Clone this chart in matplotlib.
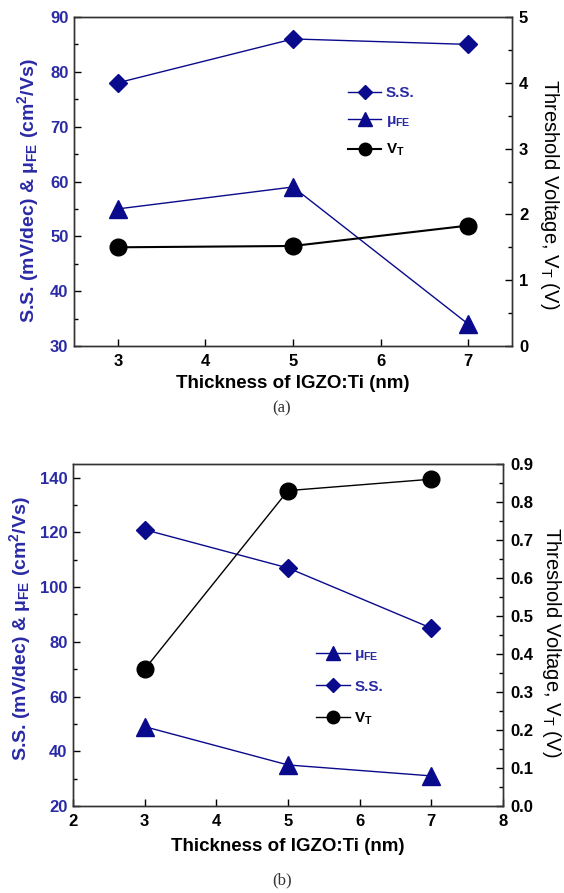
import matplotlib
matplotlib.use("Agg")
import matplotlib.pyplot as plt
from matplotlib.ticker import MultipleLocator, FormatStrFormatter

plt.rcParams['font.family'] = ['Liberation Sans', 'DejaVu Sans']
plt.rcParams['mathtext.fontset'] = 'custom'
plt.rcParams['mathtext.rm'] = 'Liberation Sans'
plt.rcParams['mathtext.bf'] = 'Liberation Sans:bold'
plt.rcParams['mathtext.it'] = 'Liberation Sans:italic'
plt.rcParams['mathtext.default'] = 'bf'

# ---------------- data ----------------
thickness = [3, 5, 7]

# panel (a)
ss_a = [78, 86, 85]
mu_a = [55, 59, 34]
vt_a = [1.50, 1.52, 1.83]

# panel (b)
ss_b = [121, 107, 85]
mu_b = [49, 35, 31]
vt_b = [0.36, 0.83, 0.86]

BLUE = '#0a0a8c'
TBLUE = '#2a2aa6'
W, H = 564, 893

TICK_FS = 12
XLABEL_FS = 13.5
LLABEL_FS = 14
RLABEL_FS = 14.5

fig = plt.figure(figsize=(W / 100, H / 100), dpi=100)


def px_axes(left, right, top, bottom):
    return fig.add_axes([left / W, (H - bottom) / H, (right - left) / W, (bottom - top) / H])


def style(ax, ax2, left, right, top, bottom, lx, ly, rx, ry, xpad):
    for a in (ax, ax2):
        for s in a.spines.values():
            s.set_linewidth(1.0)
            s.set_color('#333333')
    ax.tick_params(axis='both', which='both', direction='in', top=False, right=False)
    ax.tick_params(axis='both', which='major', length=5, width=1, labelsize=TICK_FS)
    ax.tick_params(axis='x', which='major', pad=6)
    ax.tick_params(axis='y', which='major', pad=4)
    ax.tick_params(axis='both', which='minor', length=3, width=1)
    ax.tick_params(axis='y', labelcolor=TBLUE)
    ax2.tick_params(axis='y', which='both', direction='in')
    ax2.tick_params(axis='y', which='major', length=5, width=1, labelsize=TICK_FS, pad=5)
    ax2.tick_params(axis='y', which='minor', length=3, width=1)
    for lab in ax.get_xticklabels() + ax.get_yticklabels() + ax2.get_yticklabels():
        lab.set_fontweight('bold')
    ax.set_xlabel('Thickness of IGZO:Ti (nm)', fontsize=XLABEL_FS, fontweight='bold',
                  labelpad=xpad)
    ax.set_ylabel('S.S. (mV/dec) & μ$_{FE}$ (cm$^{2}$/Vs)', fontsize=LLABEL_FS,
                  fontweight='bold', color=TBLUE, va='center', ha='center')
    ax2.set_ylabel('Threshold Voltage, V$_{\\mathrm{T}}$ (V)', fontsize=RLABEL_FS,
                   rotation=270, fontweight='normal', va='center', ha='center',
                   rotation_mode='anchor')
    w = right - left
    h = bottom - top
    ax.yaxis.set_label_coords((lx - left) / w, (bottom - ly) / h)
    ax2.yaxis.set_label_coords((rx - left) / w, (bottom - ry) / h)


def style_legend(leg):
    for t, c in zip(leg.get_texts(), leg_colors):
        t.set_color(c)
        t.set_fontweight('bold')


leg_colors = [TBLUE, TBLUE, 'black']

# ---------------- panel (a) ----------------
A = (74, 512, 17, 346)
ax = px_axes(*A)
ax2 = ax.twinx()
l_ss, = ax.plot(thickness, ss_a, '-', color=BLUE, lw=1.0, marker='D', ms=9.5,
                mfc=BLUE, mec=BLUE)
l_mu, = ax.plot(thickness, mu_a, '-', color=BLUE, lw=1.0, marker='^', ms=13,
                mfc=BLUE, mec=BLUE)
l_vt, = ax2.plot(thickness, vt_a, '-', color='black', lw=1.5, marker='o', ms=12,
                 mfc='black', mec='black')
ax.set_xlim(2.5, 7.5)
ax.set_ylim(30, 90)
ax2.set_ylim(0, 5)
ax.xaxis.set_major_locator(MultipleLocator(1))
ax.yaxis.set_major_locator(MultipleLocator(10))
ax.yaxis.set_minor_locator(MultipleLocator(5))
ax2.yaxis.set_major_locator(MultipleLocator(1))
ax2.yaxis.set_minor_locator(MultipleLocator(0.5))
style(ax, ax2, *A, lx=28, ly=191, rx=549, ry=194, xpad=4)
leg = ax.legend([l_ss, l_mu, l_vt], ['S.S.', 'μ$_{FE}$', 'V$_{T}$'],
                loc='upper left', bbox_to_anchor=(0.625, 0.79), frameon=False,
                fontsize=11, markerscale=0.75, handlelength=2.2, handletextpad=0.3,
                labelspacing=0.85, borderpad=0, borderaxespad=0)
style_legend(leg)

fig.text(282 / W, 1 - 408 / H, '(a)', family='Liberation Serif', fontsize=12,
         color='#333333', ha='center', va='center')

# ---------------- panel (b) ----------------
B = (73, 503, 464, 806)
bx = px_axes(*B)
bx2 = bx.twinx()
m_mu, = bx.plot(thickness, mu_b, '-', color=BLUE, lw=1.0, marker='^', ms=13,
                mfc=BLUE, mec=BLUE)
m_ss, = bx.plot(thickness, ss_b, '-', color=BLUE, lw=1.0, marker='D', ms=9.5,
                mfc=BLUE, mec=BLUE)
m_vt, = bx2.plot(thickness, vt_b, '-', color='black', lw=1.0, marker='o', ms=12,
                 mfc='black', mec='black')
bx.set_xlim(2, 8)
bx.set_ylim(20, 145)
bx2.set_ylim(0, 0.9)
bx.xaxis.set_major_locator(MultipleLocator(1))
bx.yaxis.set_major_locator(MultipleLocator(20))
bx.yaxis.set_minor_locator(MultipleLocator(10))
bx2.yaxis.set_major_locator(MultipleLocator(0.1))
bx2.yaxis.set_minor_locator(MultipleLocator(0.05))
bx2.yaxis.set_major_formatter(FormatStrFormatter('%.1f'))
style(bx, bx2, *B, lx=20, ly=629, rx=551, ry=642, xpad=6)
leg2 = bx.legend([m_mu, m_ss, m_vt], ['μ$_{FE}$', 'S.S.', 'V$_{T}$'],
                 loc='upper left', bbox_to_anchor=(0.565, 0.465), frameon=False,
                 fontsize=11, markerscale=0.75, handlelength=2.2, handletextpad=0.3,
                 labelspacing=1.1, borderpad=0, borderaxespad=0)
style_legend(leg2)

fig.text(282 / W, 1 - 880 / H, '(b)', family='Liberation Serif', fontsize=12,
         color='#333333', ha='center', va='center')

fig.savefig('out.png', dpi=100)
